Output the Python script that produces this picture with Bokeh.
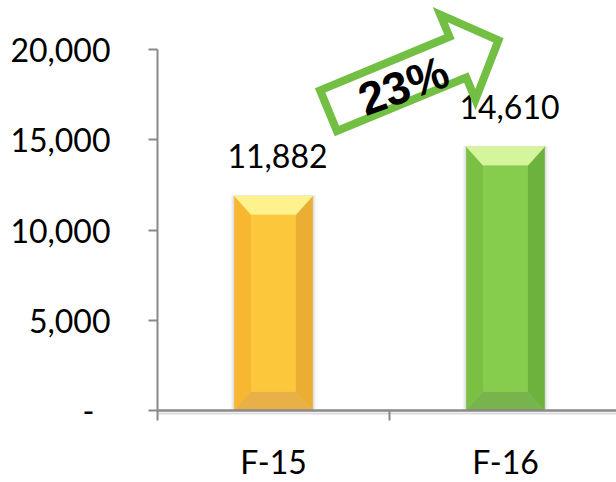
import math
from bokeh.plotting import figure
from bokeh.models import Range1d, FixedTicker, NumeralTickFormatter
from bokeh.core.properties import value
from bokeh.embed import file_html
from bokeh.resources import INLINE

# ---------------- data ----------------
categories = ["F-15", "F-16"]
values = [11882, 14610]
value_labels = ["11,882", "14,610"]
growth_label = "23%"
y_ticks = [0, 5000, 10000, 15000, 20000]
y_max = 20000

# ---------------- style ----------------
W, H = 616, 482
LEFT_PX = 157           # figure left edge -> y axis
BOTTOM_PX = 72          # x axis -> figure bottom
TOP_PX = 49             # figure top -> y_max
CAT_PX = 232            # pixel width of one category slot
Y_SPAN_PX = H - BOTTOM_PX - TOP_PX   # pixel height of 0..y_max
BAR_PX = 78
BEVEL_X_PX = 17
BEVEL_Y_PX = 19
LABEL_GAP_PX = 40
FONT = "Lato"
FS = "32px"
AXIS_COLOR = "#898989"

palettes = [
    dict(top="#FEF28C", left="#F7B731", center="#FCC73B", right="#EBAE35", bottom="#E8B046"),
    dict(top="#D5F59C", left="#79C043", center="#86CC4D", right="#6DB23D", bottom="#77B44B"),
]

ux = 1.0 / CAT_PX                 # data units per pixel (x)
uy = y_max / Y_SPAN_PX            # data units per pixel (y)
x_end = (W - LEFT_PX) * ux

p = figure(width=W, height=H,
           x_range=Range1d(-LEFT_PX * ux, x_end),
           y_range=Range1d(-BOTTOM_PX * uy, y_max + TOP_PX * uy),
           output_backend="svg", toolbar_location=None,
           min_border_left=0, min_border_right=0, min_border_top=0, min_border_bottom=0)
p.outline_line_color = None
p.xgrid.visible = False
p.ygrid.visible = False
p.background_fill_color = "white"
p.border_fill_color = "white"

centers = [i + 0.5 for i in range(len(categories))]

# faint shadow under the category axis line
p.segment(x0=[0], y0=[-3 * uy], x1=[x_end], y1=[-3 * uy], line_color="#dcdcdc", line_width=2)

# ---- bars with bevel ----
w = BAR_PX * ux
dx = BEVEL_X_PX * ux
dy = BEVEL_Y_PX * uy
for c, v, pal in zip(centers, values, palettes):
    x0, x1 = c - w / 2, c + w / 2
    xi0, xi1 = x0 + dx, x1 - dx
    yi0, yi1 = dy, v - dy
    for k, a in [(4, 0.06), (3, 0.08), (2, 0.12), (1, 0.18)]:
        p.quad(left=[x0 - k * ux], right=[x1 + k * ux], bottom=[0], top=[v + k * 0.3 * uy],
               fill_color="#9a9a9a", fill_alpha=a, line_color=None)
    shapes = [
        ("left", [x0, xi0, xi0, x0], [0, yi0, yi1, v]),
        ("right", [x1, x1, xi1, xi1], [0, v, yi1, yi0]),
        ("top", [x0, x1, xi1, xi0], [v, v, yi1, yi1]),
        ("bottom", [x0, xi0, xi1, x1], [0, yi0, yi0, 0]),
        ("center", [xi0, xi1, xi1, xi0], [yi0, yi0, yi1, yi1]),
    ]
    for name, xs, ys in shapes:
        p.patch(xs, ys, fill_color=pal[name], line_color=pal[name], line_width=0.6)

# ---- value labels ----
p.text(x=[c + 4 * ux for c in centers], y=[v + LABEL_GAP_PX * uy for v in values],
       text=value_labels, text_font=value(FONT), text_font_size=FS, text_color="black",
       text_align="center", text_baseline="alphabetic")

# ---- growth arrow (decoration, in pixels: right of y axis, above x axis) ----
ARROW_CX_PX, ARROW_UP_PX = 256, 335
ARROW_ANGLE = math.radians(22.5)
L2, SH, HH, HL = 92, 22, 46, 44
local = [(-L2, SH), (L2 - HL, SH), (L2 - HL, HH), (L2, 0), (L2 - HL, -HH), (L2 - HL, -SH), (-L2, -SH)]
ax, ay = [], []
for lx, ly in local:
    rx = lx * math.cos(ARROW_ANGLE) - ly * math.sin(ARROW_ANGLE)
    ry = lx * math.sin(ARROW_ANGLE) + ly * math.cos(ARROW_ANGLE)
    ax.append((ARROW_CX_PX + rx) * ux)
    ay.append((ARROW_UP_PX + ry) * uy)
p.patch(ax, ay, fill_color=None, line_color="#72BF44", line_width=8, line_join="miter")

TEXT_CX_PX, TEXT_UP_PX = 246, 325
p.text(x=[TEXT_CX_PX * ux], y=[TEXT_UP_PX * uy], text=[growth_label],
       text_font=value("Liberation Sans"), text_font_style="bold", text_font_size="46px",
       text_color="black", text_align="center", text_baseline="middle",
       angle=math.radians(20))

# ---- axes ----
yax = p.yaxis[0]
yax.fixed_location = 0
yax.ticker = FixedTicker(ticks=y_ticks)
yax.bounds = (0, y_max)
yax.formatter = NumeralTickFormatter(format="0,0")
yax.major_label_overrides = {0: "-\u2002"}
yax.axis_line_color = AXIS_COLOR
yax.axis_line_width = 2
yax.major_tick_line_color = AXIS_COLOR
yax.major_tick_line_width = 2
yax.major_tick_out = 9
yax.major_tick_in = 0
yax.minor_tick_line_color = None
yax.major_label_standoff = 38
yax.major_label_text_font = FONT
yax.major_label_text_font_size = FS
yax.major_label_text_color = "black"

xax = p.xaxis[0]
xax.fixed_location = 0
xax.bounds = (0, x_end)
xax.ticker = FixedTicker(ticks=centers, minor_ticks=list(range(len(categories) + 1)))
xax.major_label_overrides = {c: name for c, name in zip(centers, categories)}
xax.axis_line_color = AXIS_COLOR
xax.axis_line_width = 2.5
xax.major_tick_line_color = None
xax.major_tick_out = 0
xax.major_tick_in = 0
xax.minor_tick_line_color = AXIS_COLOR
xax.minor_tick_line_width = 2
xax.minor_tick_out = 10
xax.minor_tick_in = 0
xax.major_label_standoff = 21
xax.major_label_text_font = FONT
xax.major_label_text_font_size = FS
xax.major_label_text_color = "black"

open("out.html", "w").write(file_html(p, INLINE))
